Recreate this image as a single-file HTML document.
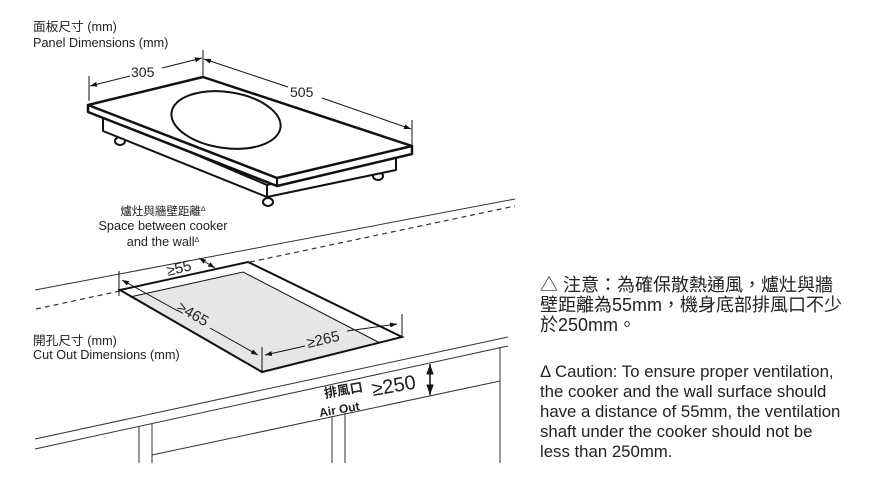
<!DOCTYPE html>
<html><head><meta charset="utf-8"><style>
html,body{margin:0;padding:0;background:#fff;}
svg{display:block;}
text{font-family:"Liberation Sans","Noto Sans CJK TC",sans-serif;fill:#222;}
</style></head><body>
<svg width="890" height="489" viewBox="0 0 890 489" xmlns="http://www.w3.org/2000/svg">
<defs>
<marker id="a" viewBox="0 0 10 10" refX="10" refY="5" markerWidth="7" markerHeight="7" orient="auto-start-reverse"><path d="M0,1.5 L10,5 L0,8.5 z" fill="#111"/></marker>
</defs>
<text x="33" y="31" font-size="12.7">面板尺寸 (mm)</text>
<text x="33" y="47" font-size="12.7">Panel Dimensions (mm)</text>

<g stroke="#111" fill="#fff" stroke-width="2" stroke-linejoin="round">
 <ellipse cx="120" cy="141" rx="5" ry="4"/>
 <ellipse cx="268" cy="202" rx="5" ry="4"/>
 <ellipse cx="378" cy="176" rx="5" ry="4"/>
 <path d="M103,115 L103,131 L267,197 L396,170 L396,153 L267,185 Z"/>
 <line x1="267" y1="185" x2="267" y2="197"/>
 <path d="M88,105 L203,77 L412,146 L412,154 L277,186 L88,112 Z" stroke-width="2.5"/>
 <path d="M88,105 L277,178 L412,146" stroke-width="2.5" fill="none"/>
 <line x1="277" y1="178" x2="277" y2="186"/>
 <ellipse cx="226" cy="120" rx="55" ry="28" transform="rotate(8 226 120)" fill="none"/>
</g>
<g stroke="#111" stroke-width="1" fill="none">
 <line x1="89" y1="76" x2="89" y2="101"/>
 <line x1="203" y1="50" x2="203" y2="76"/>
 <line x1="412" y1="120" x2="412" y2="145"/>
 <line x1="90" y1="86" x2="130" y2="76" marker-start="url(#a)"/>
 <line x1="162" y1="68" x2="202" y2="58" marker-end="url(#a)"/>
 <line x1="204" y1="59" x2="288" y2="87" marker-start="url(#a)"/>
 <line x1="322" y1="98" x2="411" y2="129" marker-end="url(#a)"/>
</g>
<text x="131" y="77" font-size="14">305</text>
<text x="290" y="97" font-size="14">505</text>

<text x="163" y="215" font-size="11.5" text-anchor="middle">爐灶與牆壁距離<tspan font-size="7" dy="-4">Δ</tspan></text>
<text x="163" y="230" font-size="12.7" text-anchor="middle">Space between cooker</text>
<text x="163" y="246" font-size="12.7" text-anchor="middle">and the wall<tspan font-size="7" dy="-4">Δ</tspan></text>

<line x1="35" y1="290" x2="515" y2="199" stroke="#333" stroke-width="1"/>
<line x1="36" y1="309" x2="120" y2="291" stroke="#333" stroke-width="1.2" stroke-dasharray="5,4"/>
<line x1="250" y1="262" x2="515" y2="206" stroke="#333" stroke-width="1.2" stroke-dasharray="5,4"/>

<path d="M120,290 L248,262 L402,337 L262,372 Z" fill="#e6e6e6" stroke="none"/>
<path d="M120,290 L130,297 L243,272 L380,343 L402,337 L248,262 Z" fill="#fff"/>
<path d="M120,290 L248,262 L402,337 L262,372 Z" fill="none" stroke="#111" stroke-width="2"/>
<path d="M130,297 L243,272 L380,343" fill="none" stroke="#111" stroke-width="1"/>
<g stroke="#111" stroke-width="1" fill="none">
 <line x1="119" y1="271" x2="119" y2="296"/>
 <line x1="402" y1="314" x2="402" y2="338"/>
 <line x1="262" y1="347" x2="262" y2="373"/>
 <line x1="122" y1="280" x2="178" y2="311" marker-start="url(#a)"/>
 <line x1="210" y1="328" x2="258" y2="355" marker-end="url(#a)"/>
 <line x1="265" y1="355" x2="305" y2="346" marker-start="url(#a)"/>
 <line x1="347" y1="331" x2="397" y2="324" marker-end="url(#a)"/>
 <line x1="199" y1="258" x2="215" y2="268" marker-start="url(#a)" marker-end="url(#a)"/>
</g>
<text x="0" y="0" font-size="15" transform="translate(168,276) rotate(-14)">≥55</text>
<text x="0" y="0" font-size="15" transform="translate(176,310) rotate(30)">≥465</text>
<text x="0" y="0" font-size="15" transform="translate(308,348) rotate(-13)">≥265</text>

<text x="33" y="345" font-size="12.7">開孔尺寸  (mm)</text>
<text x="33" y="359" font-size="12.7">Cut Out Dimensions (mm)</text>

<g stroke="#333" stroke-width="1" fill="none">
 <line x1="35" y1="439" x2="508" y2="337"/>
 <line x1="35" y1="449" x2="508" y2="346"/>
 <line x1="152" y1="455" x2="500" y2="381"/>
 <line x1="139" y1="427" x2="139" y2="463"/>
 <line x1="152" y1="424" x2="152" y2="463"/>
 <line x1="332" y1="416" x2="332" y2="463"/>
 <line x1="345" y1="413" x2="345" y2="463"/>
 <line x1="500" y1="347" x2="500" y2="463"/>
 <line x1="430" y1="364" x2="430" y2="395" stroke="#111" stroke-width="1.5" marker-start="url(#a)" marker-end="url(#a)"/>
</g>
<text x="0" y="0" font-size="13" font-weight="bold" transform="translate(325,398) rotate(-10)">排風口</text>
<text x="0" y="0" font-size="12" font-weight="bold" transform="translate(320,417) rotate(-10)">Air Out</text>
<text x="0" y="0" font-size="20" transform="translate(373,396) rotate(-10)">≥250</text>

<g font-size="18">
<text x="540" y="291">△ 注意：為確保散熱通風，爐灶與牆</text>
<text x="540" y="311">壁距離為55mm，機身底部排風口不少</text>
<text x="540" y="331">於250mm。</text>
</g>
<g font-size="16.8">
<text x="540" y="377">Δ Caution: To ensure proper ventilation,</text>
<text x="540" y="397">the cooker and the wall surface should</text>
<text x="540" y="417">have a distance of 55mm, the ventilation</text>
<text x="540" y="437">shaft under the cooker should not be</text>
<text x="540" y="457">less than 250mm.</text>
</g>
</svg>
</body></html>
